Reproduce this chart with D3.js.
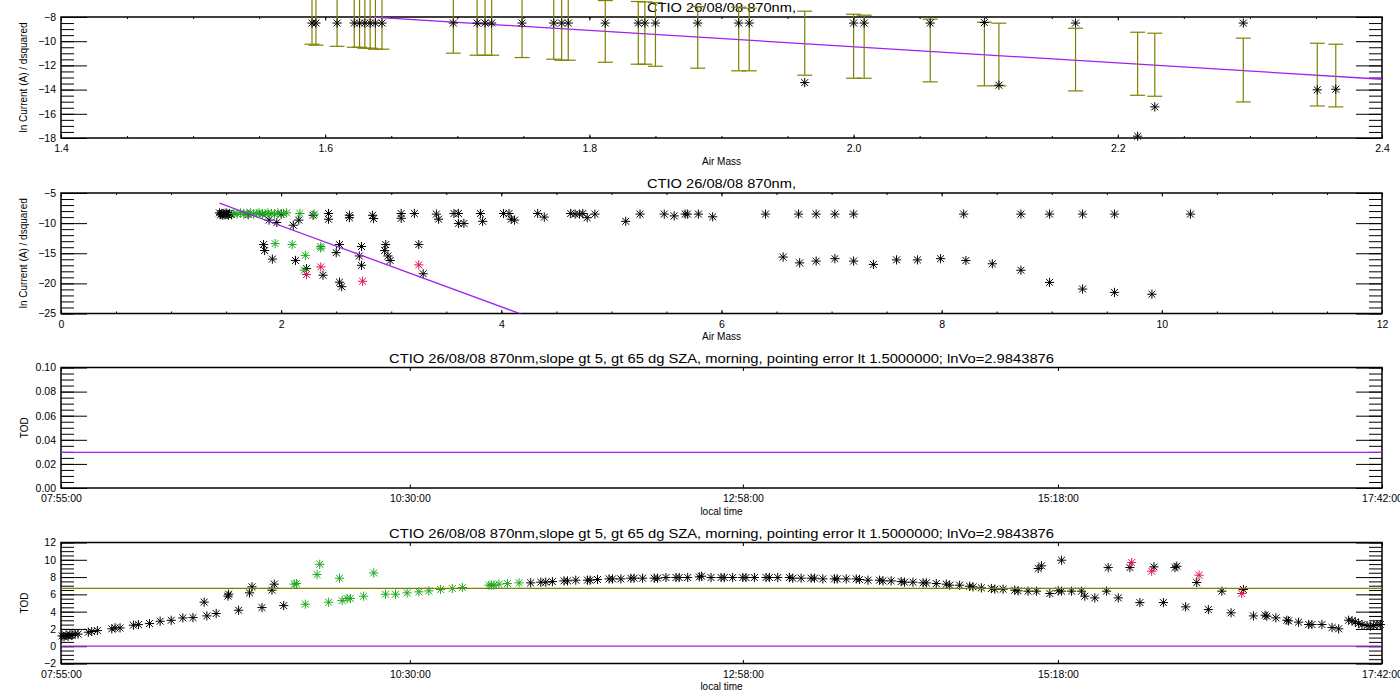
<!DOCTYPE html>
<meta charset="utf-8">
<script src="https://d3js.org/d3.v7.min.js"></script>
<style>
  body { margin: 0; background: #fff; }
  svg { display: block; font-family: "Liberation Sans", Arial, sans-serif; }
</style>
<div id="chart"></div>
<script>
// ---- panel 1 : air mass 1.4-2.4, stars with error bars
var p1Airmass = [1.590,1.593,1.609,1.622,1.626,1.630,1.634,1.638,1.643,1.697,1.715,1.721,1.726,1.749,1.773,1.779,1.784,1.812,1.837,1.842,1.850,1.882,1.913,1.921,1.963,2.000,2.008,2.058,2.099,2.110,2.168,2.215,2.228,2.295,2.351,2.365];
var p1LnI = [-8.5,-8.5,-8.5,-8.5,-8.5,-8.5,-8.5,-8.5,-8.5,-8.5,-8.5,-8.5,-8.5,-8.5,-8.5,-8.5,-8.5,-8.5,-8.5,-8.5,-8.5,-8.5,-8.5,-8.5,-13.42,-8.5,-8.5,-8.5,-8.46,-13.64,-8.5,-17.85,-15.43,-8.5,-14.02,-13.97];
var p1ErrLow = [-10.25,-10.33,-10.42,-10.50,-10.50,-10.58,-10.58,-10.66,-10.66,-10.99,-11.16,-11.16,-11.16,-11.35,-11.49,-11.57,-11.57,-11.74,-11.90,-11.90,-12.07,-12.23,-12.45,-12.45,-12.81,-13.06,-13.06,-13.36,-13.69,-13.69,-14.11,-14.47,-14.55,-15.02,-15.35,-15.43];
var p1ErrHigh = [-5.15,-5.11,-5.24,-5.34,-5.40,-5.38,-5.44,-5.46,-5.50,-5.85,-5.92,-6.00,-6.06,-6.19,-6.37,-6.37,-6.43,-6.64,-6.72,-6.75,-6.81,-7.14,-7.19,-7.27,-7.52,-7.77,-7.85,-8.18,-8.43,-8.51,-8.93,-9.26,-9.34,-9.75,-10.17,-10.25];

// Langley fit (lnVo from title), drawn over this air mass span
var fitLnVo = 2.9843876;
var fitSlope = -6.72;
var fitAirmass = [1.44, 4.2];

// ---- panel 2 : air mass 0-12, all points [airmass, ln current]
var p2Black = [[1.44,-8.3],[1.45,-8.6],[1.46,-8.4],[1.47,-8.7],[1.48,-8.4],[1.49,-8.6],[1.50,-8.3],[1.51,-8.5],[1.52,-8.7],[1.53,-8.4],[1.55,-8.6],
  [1.70,-8.6],[1.83,-8.5],[1.89,-9.5],[1.96,-9.9],[2.00,-8.5],[2.11,-10.35],[2.16,-9.5],[2.29,-8.7],
  [2.43,-8.4],[2.43,-9.35],[2.62,-8.7],[2.62,-9.1],[2.83,-8.7],[2.84,-9.25],[3.09,-8.4],[3.09,-9.2],[3.21,-8.4],[3.41,-8.5],[3.43,-9.35],
  [3.57,-8.4],[3.61,-8.4],[3.61,-10.05],[3.66,-10.05],[3.81,-8.4],[3.83,-9.7],[4.02,-8.4],[4.07,-8.4],[4.09,-9.35],[4.12,-9.5],[4.33,-8.4],
  [4.39,-9.0],[4.63,-8.4],[4.67,-8.5],[4.71,-8.5],[4.74,-8.4],[4.78,-9.1],[4.85,-8.5],[5.13,-9.7],[5.26,-8.5],[5.48,-8.5],[5.57,-8.8],
  [5.67,-8.5],[5.69,-8.5],[5.79,-8.5],[5.92,-8.95],[6.40,-8.5],[6.70,-8.5],[6.86,-8.5],[7.03,-8.5],[7.20,-8.5],[8.20,-8.5],[8.72,-8.5],
  [8.98,-8.5],[9.28,-8.5],[9.57,-8.5],[10.26,-8.5],
  [1.84,-13.56],[1.85,-14.55],[1.92,-15.97],[2.13,-16.19],[2.23,-17.55],[2.38,-18.65],[2.50,-14.9],[2.53,-13.56],[2.53,-19.8],[2.55,-20.55],
  [2.73,-13.88],[2.71,-15.45],[2.73,-17.0],[2.95,-13.56],[2.94,-14.55],[2.97,-15.45],[2.99,-16.2],[3.25,-13.56],[3.29,-18.4],
  [6.56,-15.63],[6.71,-16.6],[6.86,-16.3],[7.03,-15.9],[7.20,-16.3],[7.38,-16.85],[7.59,-16.1],[7.78,-16.1],[7.99,-15.9],[8.22,-16.2],
  [8.46,-16.75],[8.72,-17.82],[8.98,-19.84],[9.28,-20.94],[9.57,-21.5],[9.91,-21.8]];
var p2Green = [[1.57,-8.4],[1.60,-8.5],[1.63,-8.3],[1.66,-8.5],[1.69,-8.4],[1.72,-8.3],[1.75,-8.5],[1.78,-8.4],[1.80,-8.3],[1.83,-8.4],
  [1.86,-8.5],[1.88,-8.3],[1.91,-8.4],[1.94,-8.5],[1.97,-8.3],[2.02,-8.4],[2.05,-8.3],[2.17,-8.4],[2.30,-8.5],
  [1.945,-13.4],[2.10,-13.56],[2.22,-15.35],[2.21,-17.8],[2.36,-13.88],[2.36,-14.15]];
var p2Red = [[2.23,-18.54],[2.36,-17.27],[2.74,-19.65],[3.25,-16.93]];

// ---- panels 3 and 4 : local time axis
var timeTicks = ["07:55:00","10:30:00","12:58:00","15:18:00","17:42:00"];
var p3TodLevel = 0.0295;
var p4MeanTod = 6.7;
var p4ZeroTod = 0;

// [decimal hour, TOD]
var p4Black = [[7.924,1.2],[7.939,1.1],[7.954,1.3],[7.969,1.15],[7.983,1.35],[7.998,1.25],[8.021,1.45],[8.043,1.4],
  [8.119,1.62],[8.144,1.70],[8.186,1.81],[8.293,2.01],[8.317,2.12],[8.354,2.12],[8.453,2.43],[8.490,2.50],[8.572,2.62],[8.651,2.89],
  [8.733,3.0],[8.819,3.27],[8.894,3.31],[8.977,5.1],[8.997,3.51],[9.066,3.78],[9.153,5.8],[9.158,6.02],[9.232,4.16],[9.313,6.17],
  [9.331,6.87],[9.405,4.47],[9.479,6.48],[9.496,7.18],[9.566,4.7],
  [11.395,7.33],[11.470,7.41],[11.507,7.41],[11.556,7.48],[11.642,7.56],[11.668,7.56],[11.729,7.64],[11.816,7.64],[11.835,7.64],
  [11.890,7.72],[11.976,7.79],[12.001,7.79],[12.063,7.79],[12.137,7.87],[12.161,7.87],[12.224,7.87],[12.310,7.87],[12.335,7.87],
  [12.397,7.95],[12.471,7.95],[12.495,7.95],[12.558,7.95],[12.644,8.02],[12.661,8.10],[12.731,7.95],[12.805,7.95],[12.829,7.95],
  [12.891,7.95],[12.966,7.95],[12.990,7.95],[13.052,7.95],[13.138,7.95],[13.163,7.95],[13.225,7.95],[13.311,7.95],[13.336,7.87],
  [13.398,7.87],[13.472,7.87],[13.497,7.87],[13.559,7.79],[13.645,7.79],[13.665,7.79],[13.732,7.79],[13.806,7.79],[13.830,7.72],
  [13.893,7.64],[13.979,7.64],[14.004,7.56],[14.065,7.56],[14.139,7.48],[14.164,7.41],[14.226,7.41],[14.301,7.33],[14.325,7.33],
  [14.399,7.25],[14.473,7.18],[14.498,7.06],[14.572,7.06],[14.646,6.94],[14.671,6.87],[14.733,6.75],[14.807,6.68],[14.832,6.6],
  [14.894,6.6],[14.980,6.48],[15.005,6.41],[15.079,6.37],[15.141,6.37],[15.240,6.1],[15.302,6.41],[15.327,6.37],[15.401,6.37],
  [15.475,6.37],[15.499,5.79],[15.573,5.59],[15.660,6.37],[15.747,5.59],[15.907,5.05],[16.081,5.05],[16.246,4.55],[16.414,4.24],
  [16.582,3.86],[16.748,3.51],[16.834,3.59],[16.847,3.47],[16.914,3.28],[16.995,3.01],[17.008,2.93],[17.082,2.78],[17.157,2.51],
  [17.181,2.51],[17.255,2.51],[17.330,2.16],[17.379,2.01],[17.453,3.01],[17.478,2.93],[17.502,2.82],[17.527,2.62],[17.552,2.51],
  [17.589,2.39],[17.614,2.31],[17.638,2.39],[17.663,2.51],[17.688,2.51],
  [15.154,8.99],[15.178,9.30],[15.327,9.95],[15.672,9.1],[15.833,9.1],[16.011,9.18],[16.167,9.1],[16.180,9.26],[16.328,7.37],
  [16.514,6.37],[16.674,6.56]];
var p4Green = [[9.645,7.18],[9.660,7.25],[9.726,4.86],[9.813,8.29],[9.833,9.48],[9.899,5.09],[9.979,7.87],[9.999,5.28],[10.035,5.52],
  [10.060,5.52],[10.158,5.79],[10.233,8.48],[10.320,6.02],[10.394,6.02],[10.480,6.17],[10.567,6.29],[10.641,6.40],
  [10.728,6.56],[10.815,6.68],[10.889,6.79],[11.086,7.06],[11.105,7.06],[11.123,7.06],
  [11.160,7.18],[11.223,7.25],[11.309,7.33]];
var p4Red = [[15.846,9.68],[15.994,8.68],[16.345,8.22],[16.661,6.10]];

var titleShort = "CTIO 26/08/08 870nm,";
var titleLong = "CTIO 26/08/08 870nm,slope gt 5, gt 65 dg SZA, morning, pointing error lt 1.5000000; lnVo=2.9843876";

// ---- layout
var width = 1400, height = 700;
var left = 61, right = 1382;
var olive = "#808000", purple = "#a020f0", green = "#1ea81e", red = "#e2124a";

var svg = d3.select("#chart").append("svg")
    .attr("width", width)
    .attr("height", height);

function hms(s) { var p = s.split(":"); return +p[0] + p[1] / 60 + p[2] / 3600; }

function starPath(r) {
  var d = r * 0.75;
  return "M" + (-r) + ",0H" + r + "M0," + (-r) + "V" + r +
         "M" + (-d) + "," + (-d) + "L" + d + "," + d + "M" + (-d) + "," + d + "L" + d + "," + (-d);
}

// one IDL style plot box: inward ticks on all four sides
function panel(o) {
  var x = d3.scaleLinear().domain(o.xDomain).range([left, right]);
  var y = d3.scaleLinear().domain(o.yDomain).range([o.bottom, o.top]);
  var g = svg.append("g");
  var id = "clip" + o.name;
  svg.append("clipPath").attr("id", id).append("rect")
    .attr("x", left).attr("y", o.top).attr("width", right - left).attr("height", o.bottom - o.top);

  function style(a) {
    a.attr("font-family", null).attr("font-size", 10.5);
    a.select(".domain").remove();
    a.selectAll("line").attr("stroke", "#000");
  }
  g.append("g").attr("transform", "translate(0," + o.bottom + ")")
    .call(d3.axisBottom(x).tickValues(o.xMajor).tickSizeInner(-3.5).tickSizeOuter(0).tickPadding(7).tickFormat(o.xFormat))
    .call(style);
  g.append("g").attr("transform", "translate(0," + o.top + ")")
    .call(d3.axisTop(x).tickValues(o.xMajor).tickSizeInner(-3.5).tickSizeOuter(0).tickFormat(""))
    .call(style);
  if (o.xMinor) {
    g.append("g").attr("transform", "translate(0," + o.bottom + ")")
      .call(d3.axisBottom(x).tickValues(o.xMinor).tickSizeInner(-2).tickSizeOuter(0).tickFormat(""))
      .call(style);
    g.append("g").attr("transform", "translate(0," + o.top + ")")
      .call(d3.axisTop(x).tickValues(o.xMinor).tickSizeInner(-2).tickSizeOuter(0).tickFormat(""))
      .call(style);
  }
  g.append("g").attr("transform", "translate(" + left + ",0)")
    .call(d3.axisLeft(y).tickValues(o.yMajor).tickSizeInner(-26).tickSizeOuter(0).tickPadding(5).tickFormat(o.yFormat))
    .call(style);
  g.append("g").attr("transform", "translate(" + right + ",0)")
    .call(d3.axisRight(y).tickValues(o.yMajor).tickSizeInner(-26).tickSizeOuter(0).tickFormat(""))
    .call(style);
  g.append("g").attr("transform", "translate(" + left + ",0)")
    .call(d3.axisLeft(y).tickValues(o.yMinor).tickSizeInner(-13).tickSizeOuter(0).tickFormat(""))
    .call(style);
  g.append("g").attr("transform", "translate(" + right + ",0)")
    .call(d3.axisRight(y).tickValues(o.yMinor).tickSizeInner(-13).tickSizeOuter(0).tickFormat(""))
    .call(style);

  g.append("rect")
    .attr("x", left).attr("y", o.top)
    .attr("width", right - left).attr("height", o.bottom - o.top)
    .attr("fill", "none").attr("stroke", "#000").attr("stroke-width", 1.5);

  g.append("text")
    .attr("x", (left + right) / 2).attr("y", o.top - 5)
    .attr("text-anchor", "middle").attr("font-size", 12)
    .attr("textLength", o.titleLen).attr("lengthAdjust", "spacingAndGlyphs")
    .text(o.title);
  g.append("text")
    .attr("x", (left + right) / 2).attr("y", o.bottom + 26.5)
    .attr("text-anchor", "middle").attr("font-size", 10)
    .text(o.xTitle);
  g.append("text")
    .attr("transform", "translate(" + o.yTitleX + "," + ((o.top + o.bottom) / 2) + ") rotate(-90)")
    .attr("text-anchor", "middle").attr("font-size", 10)
    .text(o.yTitle);

  return { x: x, y: y, clip: "url(#" + id + ")" };
}

function stars(pts, p, color) {
  svg.append("g").selectAll("path")
    .data(pts)
    .enter()
    .append("path")
      .attr("transform", function(d) { return "translate(" + p.x(d[0]) + "," + p.y(d[1]) + ")"; })
      .attr("d", starPath(4.6))
      .attr("fill", "none")
      .attr("stroke", color)
      .attr("stroke-width", 1);
}

function hline(p, value, color) {
  svg.append("line")
    .attr("clip-path", p.clip)
    .attr("x1", left).attr("x2", right)
    .attr("y1", p.y(value)).attr("y2", p.y(value))
    .attr("stroke", color).attr("stroke-width", 1.3);
}

function fitLine(p) {
  svg.append("line")
    .attr("clip-path", p.clip)
    .attr("x1", p.x(fitAirmass[0])).attr("y1", p.y(fitLnVo + fitSlope * fitAirmass[0]))
    .attr("x2", p.x(fitAirmass[1])).attr("y2", p.y(fitLnVo + fitSlope * fitAirmass[1]))
    .attr("stroke", purple).attr("stroke-width", 1.3);
}

// ---- panel 1
var p1 = panel({
  name: "p1", top: 17, bottom: 138,
  xDomain: [1.4, 2.4], xMajor: d3.range(1.4, 2.41, 0.2), xMinor: d3.range(1.4, 2.41, 0.05),
  xFormat: d3.format(".1f"),
  yDomain: [-18, -8], yMajor: d3.range(-18, -7.9, 2), yMinor: d3.range(-18, -7.9, 0.5), yFormat: d3.format("d"),
  title: titleShort, titleLen: 149, xTitle: "Air Mass", yTitle: "ln Current (A) / dsquared", yTitleX: 27
});
fitLine(p1);
var bars = svg.append("g").attr("stroke", olive).attr("stroke-width", 1.2);
p1Airmass.forEach(function(m, i) {
  var xx = p1.x(m);
  bars.append("line").attr("x1", xx).attr("x2", xx).attr("y1", p1.y(p1ErrLow[i])).attr("y2", p1.y(p1ErrHigh[i]));
  bars.append("line").attr("x1", xx - 7.5).attr("x2", xx + 7.5).attr("y1", p1.y(p1ErrLow[i])).attr("y2", p1.y(p1ErrLow[i]));
  bars.append("line").attr("x1", xx - 7.5).attr("x2", xx + 7.5).attr("y1", p1.y(p1ErrHigh[i])).attr("y2", p1.y(p1ErrHigh[i]));
});
stars(p1Airmass.map(function(m, i) { return [m, p1LnI[i]]; }), p1, "#000");

// ---- panel 2
var p2 = panel({
  name: "p2", top: 193, bottom: 313.5,
  xDomain: [0, 12], xMajor: d3.range(0, 12.1, 2), xMinor: d3.range(0, 12.1, 0.5),
  xFormat: d3.format("d"),
  yDomain: [-25, -5], yMajor: d3.range(-25, -4.9, 5), yMinor: d3.range(-25, -4.9, 1), yFormat: d3.format("d"),
  title: titleShort, titleLen: 149, xTitle: "Air Mass", yTitle: "ln Current (A) / dsquared", yTitleX: 27
});
stars(p2Black, p2, "#000");
stars(p2Green, p2, green);
stars(p2Red, p2, red);
fitLine(p2);

// ---- panel 3
var tickHours = timeTicks.map(hms);
var timeFmt = function(d, i) { return timeTicks[i]; };
var p3 = panel({
  name: "p3", top: 367.5, bottom: 488,
  xDomain: [tickHours[0], tickHours[tickHours.length - 1]], xMajor: tickHours, xMinor: null,
  xFormat: timeFmt,
  yDomain: [0, 0.1], yMajor: d3.range(0, 0.1001, 0.02), yMinor: d3.range(0, 0.1001, 0.005), yFormat: d3.format(".2f"),
  title: titleLong, titleLen: 665, xTitle: "local time", yTitle: "TOD", yTitleX: 28
});
hline(p3, p3TodLevel, purple);

// ---- panel 4
var p4 = panel({
  name: "p4", top: 542.5, bottom: 663.5,
  xDomain: [tickHours[0], tickHours[tickHours.length - 1]], xMajor: tickHours, xMinor: null,
  xFormat: timeFmt,
  yDomain: [-2, 12], yMajor: d3.range(-2, 12.1, 2), yMinor: d3.range(-2, 12.1, 0.5), yFormat: d3.format("d"),
  title: titleLong, titleLen: 665, xTitle: "local time", yTitle: "TOD", yTitleX: 28
});
stars(p4Black, p4, "#000");
stars(p4Green, p4, green);
stars(p4Red, p4, red);
hline(p4, p4MeanTod, olive);
hline(p4, p4ZeroTod, purple);
</script>
